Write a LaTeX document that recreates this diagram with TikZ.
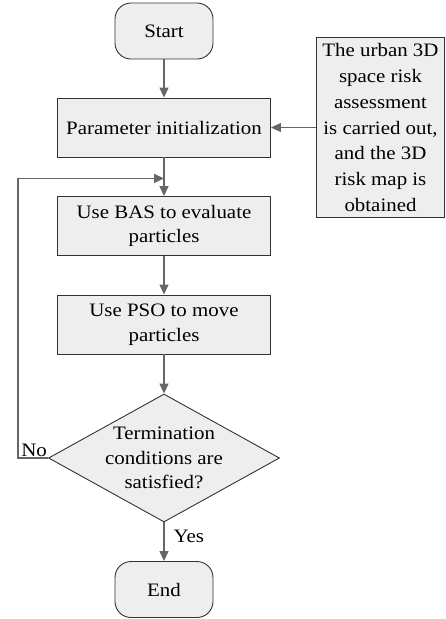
\documentclass[tikz,border=0pt]{standalone}
\usepackage{fontspec}
\setmainfont[FakeStretch=1.1]{Liberation Serif}
\usetikzlibrary{positioning,shapes.geometric,arrows.meta}
\definecolor{boxfill}{HTML}{EEEEEE}
\definecolor{boxline}{HTML}{333333}
\definecolor{arrline}{HTML}{666666}

\begin{document}
\begin{tikzpicture}[
	box/.style = {draw=boxline, fill=boxfill, line width=0.9pt, align=center, inner sep=0pt,
		font=\fontsize{19}{24.5}\selectfont},
	term/.style = {box, rounded corners=16pt, minimum width=98pt, minimum height=56pt},
	proc/.style = {box, minimum width=213pt, minimum height=59pt},
	dec/.style = {box, diamond, aspect=1.8, inner sep=-3pt, minimum width=231pt, minimum height=128pt},
	arr/.style = {draw=arrline, line width=1.3pt, -{Triangle[length=10pt,width=9pt]}},
	lbl/.style = {font=\fontsize{19}{24}\selectfont, inner sep=1pt}]
	\useasboundingbox (0,0) rectangle (445pt,-619pt);
	\node[term] (start) at (164pt,-31pt) {Start};
	\node[proc] (init) [below of=start, node distance=96.5pt] {Parameter initialization};
	\node[box, minimum width=128pt, minimum height=180pt, font=\fontsize{19}{25.8}\selectfont]
		(risk) [right of=init, node distance=216.5pt]
		{The urban 3D\\space risk\\assessment\\is carried out,\\and the 3D\\risk map is\\obtained};
	\node[proc] (bas) [below of=init, node distance=98.5pt] {Use BAS to evaluate\\particles};
	\node[proc] (pso) [below of=bas, node distance=98.5pt] {Use PSO to move\\particles};
	\node[dec] (stop) [below of=pso, node distance=133.5pt] {Termination\\conditions are\\satisfied?};
	\node[term] (end) [below of=stop, node distance=131.5pt] {End};
	\coordinate (join) at ([yshift=-21pt]init.south);
	\draw[arr] (start) -- (init);
	\draw[arr] (risk) -- (init);
	\draw[arr] (init) -- (bas);
	\draw[arr] (bas) -- (pso);
	\draw[arr] (pso) -- (stop);
	\draw[arr] (stop) -- node[lbl, right, pos=0.35, xshift=8pt] {Yes} (end);
	\draw[arr] (stop.west) -- ++(-30pt,0) |- (join);
	\node[lbl, anchor=south east] (no) at (stop.west) {No};
\end{tikzpicture}
\end{document}
